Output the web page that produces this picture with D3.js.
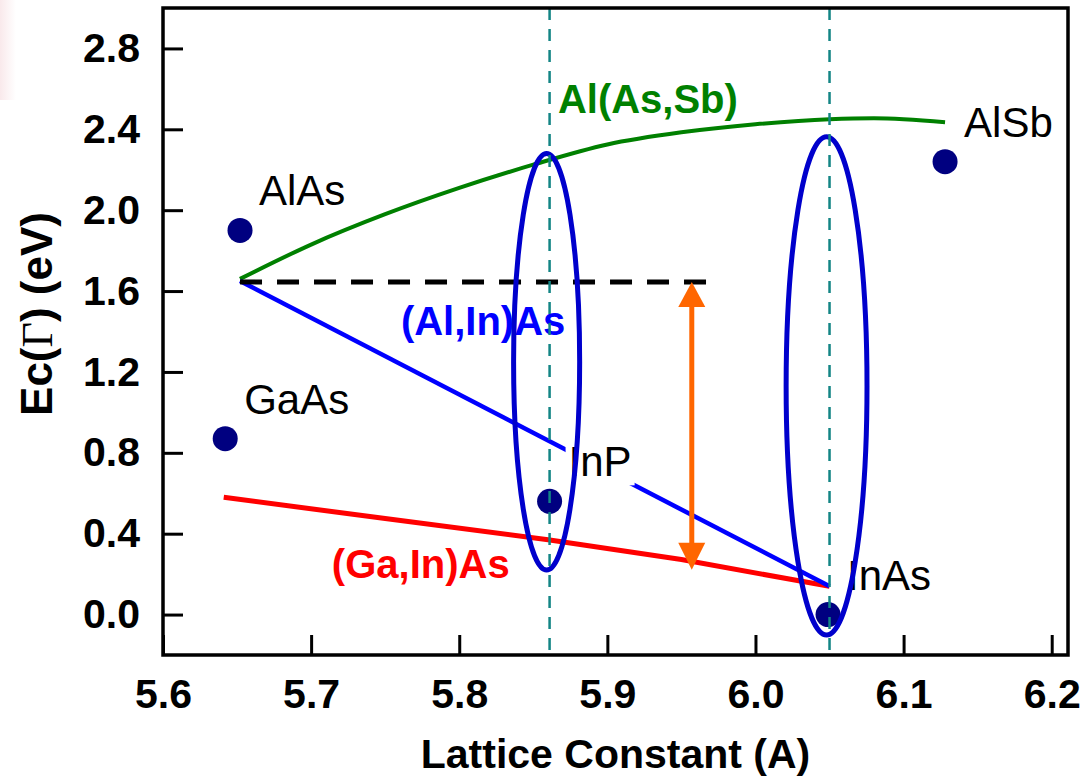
<!DOCTYPE html>
<html>
<head>
<meta charset="utf-8">
<script src="https://cdn.jsdelivr.net/npm/d3@7"></script>
<style>
  body { margin: 0; background: #fff; }
  svg { display: block; font-family: Arial, 'Liberation Sans', sans-serif; }
</style>
</head>
<body>
<svg width="1085" height="777"></svg>
<script>
// binary compounds
const compounds = ['AlAs', 'GaAs', 'InP', 'InAs', 'AlSb']
const latticeA = [5.652, 5.642, 5.861, 6.049, 6.128]
const ecGamma = [1.90, 0.87, 0.56, 0.00, 2.24]

// alloy curves
const alAsSbX = [5.652, 5.70, 5.75, 5.80, 5.85, 5.90, 5.95, 6.00, 6.05, 6.08, 6.128]
const alAsSbY = [1.66, 1.83, 1.98, 2.11, 2.225, 2.325, 2.385, 2.425, 2.45, 2.455, 2.435]
const alInAsX = [5.652, 6.05]
const alInAsY = [1.65, 0.14]
const gaInAsX = [5.641, 5.75, 5.86, 5.95, 6.05]
const gaInAsY = [0.58, 0.475, 0.37, 0.272, 0.14]

// reference marks
const refLevelX = [5.652, 5.97]
const refLevelY = 1.645
const arrowX = 5.957
const arrowY = [1.645, 0.222]
const guideX = [5.861, 6.05]
const ellipseCx = [5.859, 6.048]
const ellipseCy = [1.25, 1.131]
const ellipseRx = [0.0223, 0.0273]
const ellipseRy = [1.03, 1.232]

const xTicks = [5.6, 5.7, 5.8, 5.9, 6.0, 6.1, 6.2]
const yTicks = [0.0, 0.4, 0.8, 1.2, 1.6, 2.0, 2.4, 2.8]

const svg = d3.select('svg')
const width = +svg.attr('width')
const height = +svg.attr('height')
const margin = { top: 8, right: 17, bottom: 122, left: 163 }

const x = d3.scaleLinear().domain([5.6, 6.211]).range([margin.left, width - margin.right])
const y = d3.scaleLinear().domain([-0.2, 3.0]).range([height - margin.bottom, margin.top])

// faint slide artefact top-left
const defs = svg.append('defs')
const grad = defs.append('linearGradient').attr('id', 'pink').attr('x1', 0).attr('x2', 1)
grad.append('stop').attr('offset', 0).attr('stop-color', '#f9e9eb')
grad.append('stop').attr('offset', 1).attr('stop-color', '#ffffff')
svg.append('rect').attr('x', 0).attr('y', 0).attr('width', 16).attr('height', 100).attr('fill', 'url(#pink)')

const line = d3.line().x(d => x(d[0])).y(d => y(d[1]))
const zip = (a, b) => a.map((v, i) => [v, b[i]])

// points
svg.append('g').selectAll('circle')
  .data(compounds)
  .enter()
  .append('circle')
  .attr('cx', (d, i) => x(latticeA[i]))
  .attr('cy', (d, i) => y(ecGamma[i]))
  .attr('r', 12.5)
  .attr('fill', '#000080')

// alloy lines
svg.append('path').attr('d', line.curve(d3.curveMonotoneX)(zip(alAsSbX, alAsSbY)))
  .attr('fill', 'none').attr('stroke', '#008000').attr('stroke-width', 4)
line.curve(d3.curveLinear)
svg.append('path').attr('d', line(zip(gaInAsX, gaInAsY)))
  .attr('fill', 'none').attr('stroke', '#ff0000').attr('stroke-width', 5)
svg.append('path').attr('d', line(zip(alInAsX, alInAsY)))
  .attr('fill', 'none').attr('stroke', '#0000ff').attr('stroke-width', 4.5)

// reference level
svg.append('path').attr('d', line(refLevelX.map(v => [v, refLevelY])))
  .attr('stroke', '#000').attr('stroke-width', 5).attr('stroke-dasharray', '22,15')

// orange double arrow
const ax = x(arrowX)
const aTop = y(arrowY[0])
const aBot = y(arrowY[1])
const orange = '#ff6600'
svg.append('line').attr('x1', ax).attr('x2', ax).attr('y1', aTop + 20).attr('y2', aBot - 20)
  .attr('stroke', orange).attr('stroke-width', 5)
svg.append('path').attr('d', `M${ax},${aTop} L${ax - 13.5},${aTop + 25} L${ax + 13.5},${aTop + 25} Z`).attr('fill', orange)
svg.append('path').attr('d', `M${ax},${aBot} L${ax - 13.5},${aBot - 27} L${ax + 13.5},${aBot - 27} Z`).attr('fill', orange)

// compound labels
const labels = svg.append('g').style('font-size', '42px')
labels.selectAll('text')
  .data(compounds)
  .enter()
  .append('text')
  .attr('x', (d, i) => x(latticeA[i]) + 19)
  .attr('y', (d, i) => y(ecGamma[i]) - 25)
  .text(d => d)
  .each(function (d) {
    if (d === 'InP') {
      const bb = this.getBBox()
      d3.select(this.parentNode).insert('rect', () => this)
        .attr('x', bb.x - 3).attr('y', bb.y).attr('width', bb.width + 6).attr('height', bb.height)
        .attr('fill', '#fff')
    }
  })

// alloy labels
const alloy = svg.append('g').style('font-size', '40px').style('font-weight', 'bold')
alloy.append('text').attr('x', x(5.8666)).attr('y', y(2.479)).attr('fill', '#008000').text('Al(As,Sb)')
alloy.append('text').attr('x', x(5.7606)).attr('y', y(1.383)).attr('fill', '#0000ff').text('(Al,In)As')
alloy.append('text').attr('x', x(5.714)).attr('y', y(0.183)).attr('fill', '#ff0000').text('(Ga,In)As')

// ellipses
svg.append('g').selectAll('ellipse')
  .data(ellipseCx)
  .enter()
  .append('ellipse')
  .attr('cx', d => x(d))
  .attr('cy', (d, i) => y(ellipseCy[i]))
  .attr('rx', (d, i) => x(d + ellipseRx[i]) - x(d))
  .attr('ry', (d, i) => y(0) - y(ellipseRy[i]))
  .attr('fill', 'none')
  .attr('stroke', '#0000cc')
  .attr('stroke-width', 5)

// teal guides
svg.append('g').selectAll('line')
  .data(guideX)
  .enter()
  .append('line')
  .attr('x1', d => x(d)).attr('x2', d => x(d))
  .attr('y1', y.range()[1]).attr('y2', y.range()[0])
  .attr('stroke', '#138585').attr('stroke-width', 2.5).attr('stroke-dasharray', '12,9')

// axes
const xAxis = svg.append('g').attr('transform', `translate(0,${y.range()[0]})`)
xAxis.call(d3.axisBottom(x).tickValues(d3.range(5.65, 6.21, 0.1)).tickSize(-10).tickFormat(''))
xAxis.call(d3.axisBottom(x).tickValues(xTicks).tickSize(-20).tickPadding(24).tickFormat(d3.format('.1f')))
const yAxis = svg.append('g').attr('transform', `translate(${x.range()[0]},0)`)
yAxis.call(d3.axisLeft(y).tickValues(d3.range(0.2, 2.9, 0.4)).tickSize(-11).tickFormat(''))
yAxis.call(d3.axisLeft(y).tickValues(yTicks).tickSize(-20).tickPadding(23).tickFormat(d3.format('.1f')))

svg.selectAll('.domain').remove()
svg.selectAll('.tick line').attr('stroke', '#000').attr('stroke-width', 3)
svg.selectAll('.tick text').attr('fill', '#000').style('font-size', '41px').style('font-weight', 'bold')
  .style('font-family', "Arial, 'Liberation Sans', sans-serif")

svg.append('rect')
  .attr('x', x.range()[0]).attr('y', y.range()[1])
  .attr('width', x.range()[1] - x.range()[0]).attr('height', y.range()[0] - y.range()[1])
  .attr('fill', 'none').attr('stroke', '#000').attr('stroke-width', 3.5)

// axis titles
svg.append('text')
  .attr('x', (x.range()[0] + x.range()[1]) / 2).attr('y', 768)
  .attr('text-anchor', 'middle').style('font-size', '41px').style('font-weight', 'bold')
  .text('Lattice Constant (A)')

const yt = svg.append('text')
  .attr('transform', 'translate(52,314) rotate(-90)')
  .attr('text-anchor', 'middle').style('font-size', '44px').style('font-weight', 'bold')
yt.append('tspan').text('Ec(')
yt.append('tspan').style('font-family', "'Liberation Serif', 'Times New Roman', serif").style('font-weight', 'normal').text('Γ')
yt.append('tspan').text(') (eV)')
</script>
</body>
</html>
